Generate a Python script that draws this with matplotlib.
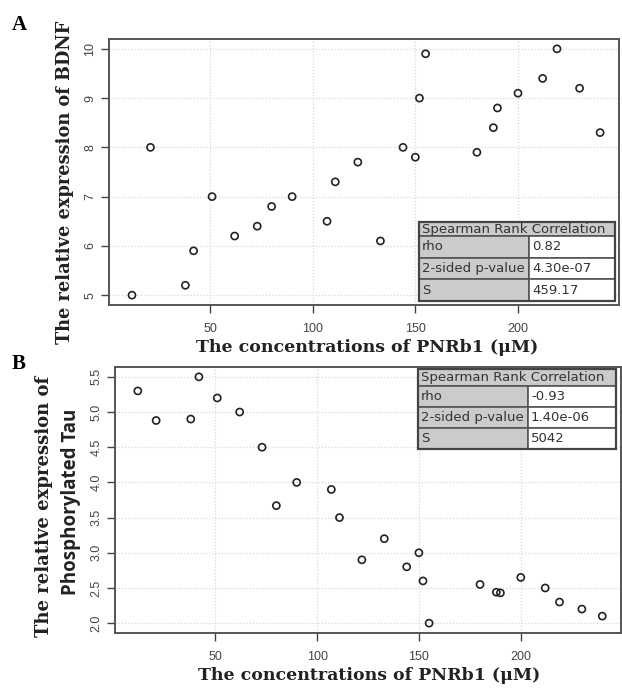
import matplotlib
matplotlib.use("Agg")
import matplotlib.pyplot as plt
from matplotlib.patches import Rectangle

conc = [12, 21, 38, 42, 51, 62, 73, 80, 90, 107, 111, 122, 133, 144, 150, 152, 155,
        180, 188, 190, 200, 212, 219, 230, 240]
bdnf = [5.0, 8.0, 5.2, 5.9, 7.0, 6.2, 6.4, 6.8, 7.0, 6.5, 7.3, 7.7, 6.1, 8.0, 7.8, 9.0, 9.9,
        7.9, 8.4, 8.8, 9.1, 9.4, 10.0, 9.2, 8.3]
conc_b = [12, 21, 38, 42, 51, 62, 73, 80, 90, 107, 111, 122, 133, 144, 150, 152, 155,
          180, 188, 190, 200, 212, 219, 230, 240]
tau = [5.3, 4.88, 4.9, 5.5, 5.2, 5.0, 4.5, 3.67, 4.0, 3.9, 3.5, 2.9, 3.2, 2.8, 3.0, 2.6, 2.0,
       2.55, 2.44, 2.43, 2.65, 2.5, 2.3, 2.2, 2.1]

x_ticks = [50, 100, 150, 200]
yticks_a = [5, 6, 7, 8, 9, 10]
yticks_b = [2.0, 2.5, 3.0, 3.5, 4.0, 4.5, 5.0, 5.5]

table_a = [("rho", "0.82"), ("2-sided p-value", "4.30e-07"), ("S", "459.17")]
table_b = [("rho", "-0.93"), ("2-sided p-value", "1.40e-06"), ("S", "5042")]

W, H = 622, 688
fig = plt.figure(figsize=(W / 100, H / 100), dpi=100)
fig.patch.set_facecolor("white")


def box(l, t, r, b):
    return [l / W, 1 - b / H, (r - l) / W, (b - t) / H]


def fx(x):
    return x / W


def fy(y):
    return 1 - y / H


tick_font = dict(family="Liberation Sans", size=9, color="#444444")
lab_font = dict(family="DejaVu Serif", weight="bold", color="#222222")


def style(ax, xs, ys, yticks, xlim, ylim):
    ax.scatter(xs, ys, s=26, facecolors="none", edgecolors="#222222", linewidths=1.2, zorder=3)
    ax.set_xlim(*xlim)
    ax.set_ylim(*ylim)
    ax.set_xticks(x_ticks)
    ax.set_yticks(yticks)
    ax.set_xticklabels([str(v) for v in x_ticks], **tick_font)
    ax.set_yticklabels([("%g" % v) if isinstance(v, int) else ("%.1f" % v) for v in yticks],
                       rotation=90, va="center", **tick_font)
    ax.tick_params(direction="out", length=6, width=1, color="#444444")
    ax.tick_params(axis="x", pad=7)
    ax.tick_params(axis="y", pad=3)
    ax.grid(True, color="#d8d8d8", linestyle=(0, (1, 1.5)), linewidth=0.9)
    ax.set_axisbelow(True)
    for s in ax.spines.values():
        s.set_color("#555555")
        s.set_linewidth(1.4)


def draw_table(l, t, r, split, rows, header_h=15, row_h=21.3):
    gray = "#cbcbcb"
    edge = "#555555"
    fig.add_artist(Rectangle((fx(l), fy(t + header_h)), fx(r - l), header_h / H,
                             transform=fig.transFigure, facecolor=gray, edgecolor=edge, lw=1.2))
    fig.text(fx(l + 3), fy(t + header_h / 2), "Spearman Rank Correlation", family="DejaVu Sans",
             size=9.5, color="#333333", va="center", ha="left")
    y = t + header_h
    for k, v in rows:
        fig.add_artist(Rectangle((fx(l), fy(y + row_h)), fx(split - l), row_h / H,
                                 transform=fig.transFigure, facecolor=gray, edgecolor=edge, lw=1.2))
        fig.add_artist(Rectangle((fx(split), fy(y + row_h)), fx(r - split), row_h / H,
                                 transform=fig.transFigure, facecolor="white", edgecolor=edge, lw=1.2))
        fig.text(fx(l + 3), fy(y + row_h / 2), k, family="DejaVu Sans", size=9.5,
                 color="#333333", va="center", ha="left")
        fig.text(fx(split + 3), fy(y + row_h / 2), v, family="DejaVu Sans", size=9.5,
                 color="#333333", va="center", ha="left")
        y += row_h
    fig.add_artist(Rectangle((fx(l), fy(y)), fx(r - l), (y - t) / H,
                             transform=fig.transFigure, facecolor="none", edgecolor="#444444", lw=1.6))


# Panel A
axA = fig.add_axes(box(109, 39, 619, 305))
style(axA, conc, bdnf, yticks_a, (0.8, 249.2), (4.8, 10.2))
fig.text(fx(65), fy(182), "The relative expression of BDNF", rotation=90, ha="center", va="center",
         size=12.8, **lab_font)
fig.text(fx(367), fy(348), "The concentrations of PNRb1 (μM)", ha="center", va="center",
         size=12.5, **lab_font)
fig.text(fx(12), fy(25), "A", family="Liberation Serif", weight="bold", size=15, va="center", ha="left")
draw_table(419, 222, 615, 529, table_a, header_h=14, row_h=21.7)

# Panel B
axB = fig.add_axes(box(115, 367, 621, 633))
style(axB, conc_b, tau, yticks_b, (0.8, 249.2), (1.86, 5.64))
fig.text(fx(44), fy(506), "The relative expression of", rotation=90, ha="center", va="center",
         size=13, **lab_font)
fig.text(fx(71), fy(502), "Phosphorylated Tau", rotation=90, ha="center", va="center",
         family="Open Sans", weight="bold", size=13.5, color="#222222")
fig.text(fx(369), fy(675), "The concentrations of PNRb1 (μM)", ha="center", va="center",
         size=12.5, **lab_font)
fig.text(fx(12), fy(364), "B", family="Liberation Serif", weight="bold", size=15, va="center", ha="left")
draw_table(418, 369, 616, 528, table_b, header_h=17, row_h=21)

fig.savefig("out.png", dpi=100, facecolor="white")
